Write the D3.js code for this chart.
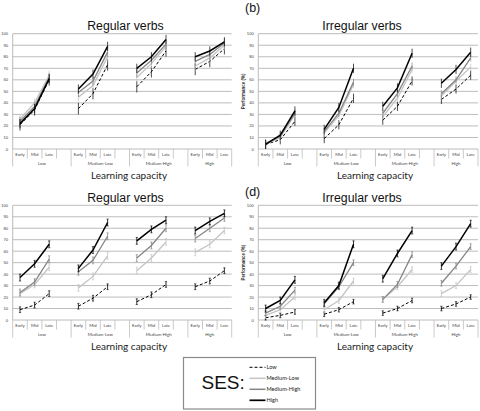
<!DOCTYPE html>
<html><head><meta charset="utf-8">
<script src="https://cdn.jsdelivr.net/npm/d3@7"></script>
<style>body{margin:0;background:#fff}svg{display:block}</style>
</head><body>
<script>
// ---- data ----
const groups = ["Low","Medium-Low","Medium-High","High"];
const stages = ["Early","Mid","Late"];
const sesLevels = ["Low","Medium-Low","Medium-High","High"];
const yTicks = [0,10,20,30,40,50,60,70,80,90,100];

// Panel (a) Regular verbs (top)
const regTop_low     = [21,34,60, 35,48,73, 54,67,85, 69,76,87];
const regTop_medLow  = [26,40,64, 45,55,80, 62,74,89, 72,79,90];
const regTop_medHigh = [24,37,62, 49,59,84, 66,77,91, 76,82,92];
const regTop_high    = [22,35,61, 52,65,89, 70,80,95, 80,85,93];
const regTop_err     = [5,4,4,4];
// Panel (b) Irregular verbs (top)
const irrTop_low     = [4,8,24, 9,21,44, 25,37,59, 43,52,64];
const irrTop_medLow  = [4,10,30, 14,29,56, 28,44,69, 46,59,71];
const irrTop_medHigh = [5,11,31, 15,31,58, 31,48,72, 48,60,79];
const irrTop_high    = [4,12,33, 17,36,70, 37,53,83, 57,69,84];
const irrTop_err     = [4,3,3,4];
// Panel (c) Regular verbs (bottom)
const regBot_low     = [9,13,23, 12,19,29, 16,22,31, 29,34,43];
const regBot_medLow  = [23,31,46, 28,38,56, 43,54,68, 59,66,78];
const regBot_medHigh = [24,33,53, 42,52,73, 54,65,80, 71,80,89];
const regBot_high    = [37,49,66, 45,61,85, 69,79,87, 78,86,93];
const regBot_err     = [2.5,3,3,3];
// Panel (d) Irregular verbs (bottom)
const irrBot_low     = [2,4,7, 5,9,16, 6,10,17, 10,14,20];
const irrBot_medLow  = [4,9,20, 9,17,34, 18,29,44, 23,30,44];
const irrBot_medHigh = [6,12,26, 14,29,50, 18,31,57, 32,47,64];
const irrBot_high    = [10,17,35, 15,30,66, 36,58,78, 47,64,84];
const irrBot_err     = [2,2.5,2.5,3];

// ---- styles ----
const sesStyle = {
  "Low":         {color:"#000", width:1, dash:"3,2"},
  "Medium-Low":  {color:"#c4c4c4", width:1.3, dash:null},
  "Medium-High": {color:"#858585", width:1.3, dash:null},
  "High":        {color:"#000", width:1.5, dash:null}
};

const W = 480, H = 411;
const svg = d3.select("body").append("svg").attr("width", W).attr("height", H);

const panels = [
  {title:"Regular verbs", tag:null, ylab:false, caps:false, left:12.7, right:231.7, top:33.7, bottom:149, titleX:125.5, titleY:30, xlabX:129, xlabY:179,
   series:[regTop_low,regTop_medLow,regTop_medHigh,regTop_high], err:regTop_err},
  {title:"Irregular verbs", tag:"(b)", ylab:true, caps:false, left:258.3, right:478, top:33.7, bottom:149, titleX:362, titleY:30, xlabX:375, xlabY:179,
   series:[irrTop_low,irrTop_medLow,irrTop_medHigh,irrTop_high], err:irrTop_err},
  {title:"Regular verbs", tag:null, ylab:false, caps:true, left:12.7, right:231.7, top:205.3, bottom:320, titleX:125.5, titleY:201.5, xlabX:129, xlabY:350,
   series:[regBot_low,regBot_medLow,regBot_medHigh,regBot_high], err:regBot_err},
  {title:"Irregular verbs", tag:"(d)", ylab:true, caps:true, left:258.3, right:478, top:205.3, bottom:320, titleX:362, titleY:201.5, xlabX:375, xlabY:350,
   series:[irrBot_low,irrBot_medLow,irrBot_medHigh,irrBot_high], err:irrBot_err}
];

// slots: 3 stages + blank per group, last group without blank
const slots = [];
groups.forEach((g,gi)=>{
  stages.forEach(s=>slots.push(g+"|"+s));
  if (gi < groups.length-1) slots.push(g+"|_");
});

panels.forEach(p=>{
  const g = svg.append("g");
  const x = d3.scaleBand().domain(slots).range([p.left, p.right]).paddingInner(0).paddingOuter(0);
  const y = d3.scaleLinear().domain([0,100]).range([p.bottom, p.top]);
  const bw = x.bandwidth();

  // gridlines
  g.selectAll(".grid").data(yTicks).join("line")
    .attr("x1", p.left).attr("x2", p.right)
    .attr("y1", d=>y(d)).attr("y2", d=>y(d))
    .attr("stroke", "#bcbcbc").attr("stroke-width", 1);
  // y axis line
  g.append("line").attr("x1",p.left).attr("x2",p.left).attr("y1",p.top).attr("y2",p.bottom)
    .attr("stroke","#bcbcbc");
  // y tick labels
  g.selectAll(".yt").data(yTicks).join("text")
    .attr("x", p.left-4.5).attr("y", d=>y(d)+1.5)
    .attr("text-anchor","end").attr("font-family","Liberation Sans, Arial, sans-serif")
    .attr("font-size", 4.2).attr("fill","#444").text(d=>d);

  // category axis: slot separators
  const sepY1 = p.bottom, sepShort = p.bottom + 9.5, sepLong = p.bottom + 17.5;
  slots.forEach((s,i)=>{
    const xx = x(s);
    const isGroupStart = s.endsWith("|Early");
    g.append("line").attr("x1",xx).attr("x2",xx).attr("y1",sepY1)
      .attr("y2", isGroupStart ? sepLong : sepShort)
      .attr("stroke","#bcbcbc").attr("stroke-width",0.8);
  });
  g.append("line").attr("x1",p.right).attr("x2",p.right).attr("y1",sepY1).attr("y2",sepLong)
    .attr("stroke","#bcbcbc").attr("stroke-width",0.8);
  // stage labels
  groups.forEach(gr=>{
    stages.forEach(st=>{
      g.append("text").attr("x", x(gr+"|"+st)+bw/2).attr("y", p.bottom+7.3)
        .attr("text-anchor","middle").attr("font-family","Lato, sans-serif")
        .attr("font-size",4.3).attr("fill","#444").text(st);
    });
    const gx0 = x(gr+"|Early");
    const gx1 = gr==="High" ? p.right : x(gr+"|_")+bw;
    g.append("text").attr("x",(gx0+gx1)/2).attr("y", p.bottom+15.7)
      .attr("text-anchor","middle").attr("font-family","Lato, sans-serif")
      .attr("font-size",4.3).attr("fill","#444").text(gr);
  });

  // series lines + error bars
  p.series.forEach((vals, si)=>{
    const ses = sesLevels[si];
    const st = sesStyle[ses];
    const e = p.err[si];
    groups.forEach((gr, gi)=>{
      const pts = stages.map((stg, k)=>({x: x(gr+"|"+stg)+bw/2, v: vals[gi*3+k]}));
      // error bars
      pts.forEach(pt=>{
        g.append("line").attr("x1",pt.x).attr("x2",pt.x)
          .attr("y1", y(pt.v-e)).attr("y2", y(pt.v+e))
          .attr("stroke", st.color).attr("stroke-width", p.caps ? 0.8 : 0.7);
        if (p.caps) {
          [pt.v-e, pt.v+e].forEach(v=>{
            g.append("line").attr("x1",pt.x-1.1).attr("x2",pt.x+1.1)
              .attr("y1",y(v)).attr("y2",y(v))
              .attr("stroke", st.color).attr("stroke-width",0.6);
          });
        }
      });
      g.append("path").datum(pts)
        .attr("d", d3.line().x(d=>d.x).y(d=>y(d.v)))
        .attr("fill","none").attr("stroke", st.color)
        .attr("stroke-width", st.width)
        .attr("stroke-dasharray", st.dash);
    });
  });

  // title
  g.append("text").attr("x",p.titleX).attr("y",p.titleY).attr("text-anchor","middle")
    .attr("font-family","Liberation Sans, Arial, sans-serif").attr("font-size",12.3)
    .attr("fill","#111").text(p.title);
  // x label
  g.append("text").attr("x",p.xlabX).attr("y",p.xlabY).attr("text-anchor","middle")
    .attr("font-family","Lato, sans-serif").attr("font-size",10)
    .attr("fill","#222").text("Learning capacity");
  if (p.tag) {
    g.append("text").attr("x", 245).attr("y", p.top === 33.7 ? 11.5 : 195.5)
      .attr("font-family","Liberation Sans, Arial, sans-serif").attr("font-size",12.5)
      .attr("fill","#111").text(p.tag);
  }
  if (p.ylab) {
    const cy = (p.top+p.bottom)/2;
    g.append("text").attr("transform",`translate(${p.left-13.5},${cy}) rotate(-90)`)
      .attr("text-anchor","middle").attr("font-family","Liberation Sans, Arial, sans-serif")
      .attr("font-size",4.5).attr("font-weight","bold").attr("fill","#333").text("Performance (%)");
  }
});

// legend
const lg = svg.append("g");
lg.append("rect").attr("x",183.5).attr("y",357.5).attr("width",132).attr("height",51.5)
  .attr("fill","#fff").attr("stroke","#8a8a8a").attr("stroke-width",1.2);
lg.append("text").attr("x",201.5).attr("y",389).attr("font-family","Liberation Sans, Arial, sans-serif")
  .attr("font-size",19).attr("fill","#111").text("SES:");
const legY = d3.scalePoint().domain(sesLevels).range([367.3, 400.3]);
sesLevels.forEach(s=>{
  const st = sesStyle[s];
  const yy = legY(s);
  lg.append("line").attr("x1",249.5).attr("x2",265.5).attr("y1",yy).attr("y2",yy)
    .attr("stroke",st.color).attr("stroke-width", s==="High"?1.7:(s==="Low"?1:1.5))
    .attr("stroke-dasharray", st.dash);
  lg.append("text").attr("x",266.5).attr("y",yy+1.8).attr("font-family","Lato, sans-serif")
    .attr("font-size",5.6).attr("fill","#222").text(s);
});
</script>
</body></html>
